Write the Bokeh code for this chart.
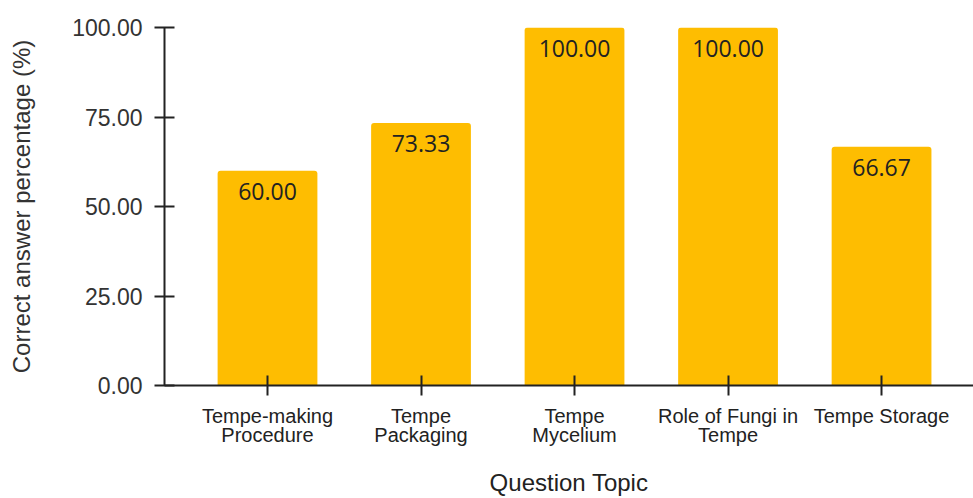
from bokeh.plotting import figure
from bokeh.models import (ColumnDataSource, Range1d, FixedTicker, PrintfTickFormatter,
                          LinearAxis)
from bokeh.core.properties import value
from bokeh.embed import file_html
from bokeh.resources import INLINE

# Question topics and the share of correct answers for each
categories = [
    "Tempe-making Procedure",
    "Tempe Packaging",
    "Tempe Mycelium",
    "Role of Fungi in Tempe",
    "Tempe Storage",
]
tick_labels = [
    "Tempe-making\nProcedure",
    "Tempe\nPackaging",
    "Tempe\nMycelium",
    "Role of Fungi in\nTempe",
    "Tempe Storage",
]
correct_pct = [60.00, 73.33, 100.00, 100.00, 66.67]
y_ticks = [0, 25, 50, 75, 100]

positions = list(range(len(categories)))
source = ColumnDataSource(data=dict(
    x=positions,
    topic=categories,
    pct=correct_pct,
    label=[f"{v:.2f}" for v in correct_pct],
))

p = figure(
    width=973, height=498,
    x_range=Range1d(-0.671, 4.599),
    y_range=Range1d(0, 100),
    output_backend="svg", toolbar_location=None,
    min_border_left=164, min_border_right=0,
    min_border_top=27, min_border_bottom=113,
)
p.outline_line_color = None
p.grid.visible = False
p.background_fill_color = "white"
p.border_fill_color = "white"

p.vbar(x="x", top="pct", width=0.65, source=source,
       fill_color="#FEBD01", line_color=None,
       border_radius=(3, 3, 0, 0))

p.text(x="x", y="pct", text="label", source=source,
       text_align="center", text_baseline="alphabetic", y_offset=21,
       text_font=value("Open Sans"), text_font_size="23px", text_color="#222222")

AXIS_COLOR = "#222222"

# x axis: one tick per topic, wrapped labels
xa = p.xaxis[0]
xa.ticker = FixedTicker(ticks=positions)
xa.major_label_overrides = {i: t for i, t in zip(positions, tick_labels)}
xa.minor_tick_line_color = None
xa.major_tick_in = 10
xa.major_tick_out = 10
xa.axis_line_width = 2
xa.major_tick_line_width = 2
xa.axis_line_color = AXIS_COLOR
xa.major_tick_line_color = AXIS_COLOR
xa.major_label_text_font = "Liberation Sans"
xa.major_label_text_font_size = "20px"
xa.major_label_text_line_height = 0.88
xa.major_label_text_color = "#222222"
xa.major_label_standoff = 9

# y axis: percentage with two decimals
ya = p.yaxis[0]
ya.ticker = FixedTicker(ticks=y_ticks)
ya.formatter = PrintfTickFormatter(format="%.2f")
ya.minor_tick_line_color = None
ya.major_tick_in = 10
ya.major_tick_out = 10
ya.axis_line_width = 2
ya.major_tick_line_width = 2
ya.axis_line_color = AXIS_COLOR
ya.major_tick_line_color = AXIS_COLOR
ya.major_label_text_font = "Liberation Sans"
ya.major_label_text_font_size = "23px"
ya.major_label_text_color = "#333333"
ya.major_label_standoff = 12


def title_axis(label, standoff, size, color):
    """A bare axis that only carries a title."""
    return LinearAxis(
        ticker=FixedTicker(ticks=[]),
        axis_label=label, axis_label_standoff=standoff,
        axis_label_text_font="Liberation Sans", axis_label_text_font_size=size,
        axis_label_text_font_style="normal", axis_label_text_color=color,
        axis_line_color=None, major_tick_line_color=None, minor_tick_line_color=None,
        major_tick_in=0, major_tick_out=0, minor_tick_in=0, minor_tick_out=0,
    )


p.add_layout(title_axis("Question Topic", 20, "24px", "#222222"), "below")
p.add_layout(title_axis("Correct answer percentage (%)", 35, "24px", "#333333"), "left")

open("out.html", "w").write(file_html(p, INLINE))
